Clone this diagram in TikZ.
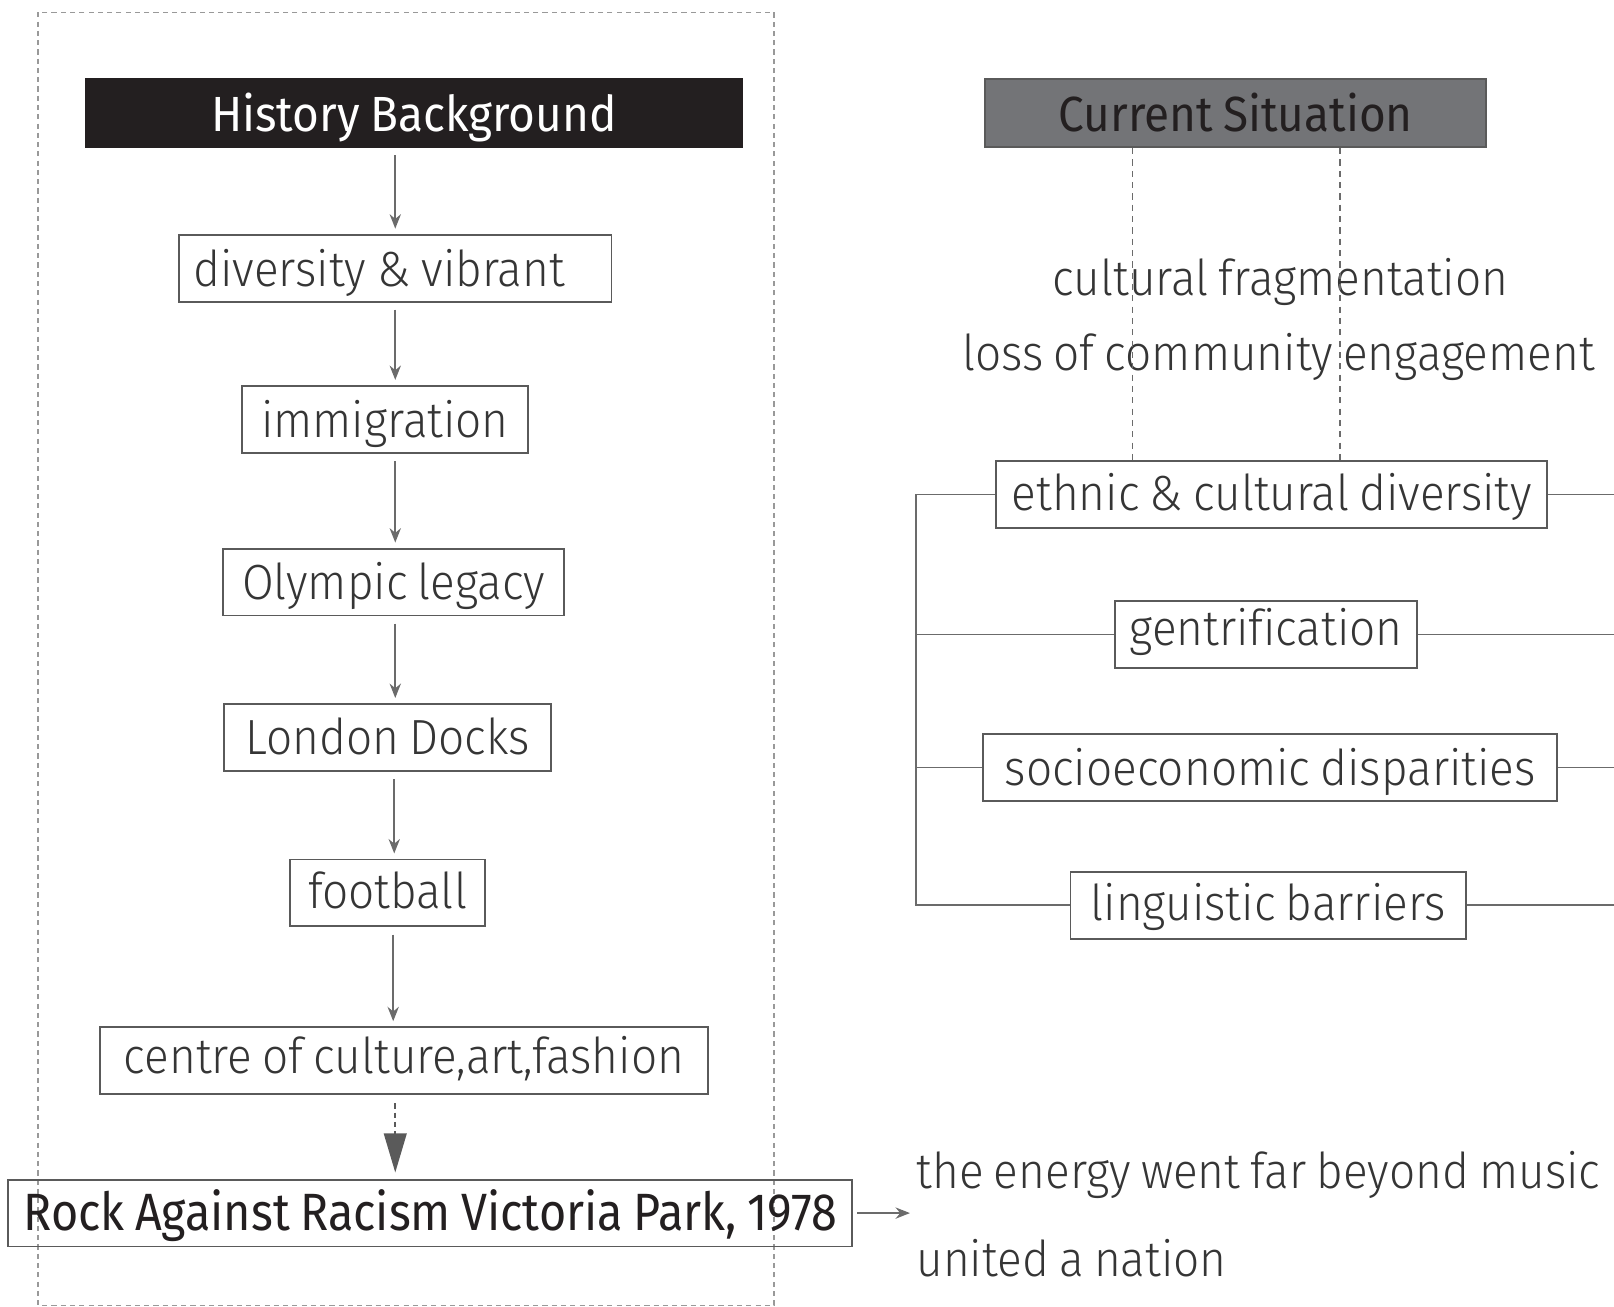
\documentclass[tikz,border=0pt]{standalone}
\usepackage{fontspec}
\setmainfont{Fira Sans Light}[FakeStretch=0.93, Ligatures=NoCommon, WordSpace=0.8]
\newfontfamily\regfont{Fira Sans}[FakeStretch=0.93, Ligatures=NoCommon, WordSpace=0.85]
\newfontfamily\rockfont{Fira Sans}[FakeStretch=0.89, Ligatures=NoCommon, WordSpace=0.85]
\usetikzlibrary{arrows.meta}
\definecolor{linegray}{HTML}{6B6B6B}
\definecolor{boxgray}{HTML}{5A5A5A}
\definecolor{txt}{HTML}{353535}
\definecolor{histfill}{HTML}{231F20}
\definecolor{curfill}{HTML}{737477}
\begin{document}
\begin{tikzpicture}[x=0.5pt,y=-0.5pt,
  box/.style 2 args={draw=boxgray, line width=0.9pt, inner sep=0pt,
    minimum width=#1*0.5pt, minimum height=#2*0.5pt,
    text height=20pt, text depth=2.5pt, text=txt, font=\fontsize{24}{28}\selectfont},
  lift/.style={text depth=#1pt},
  head/.style={box={#1}{66}, draw=histfill, font=\regfont\fontsize{24}{28}\selectfont},
  arr/.style={draw=linegray, line width=0.8pt, -{Stealth[length=7pt,width=5.5pt]},
    shorten <=3.5pt, shorten >=2.5pt},
  conn/.style={draw=linegray, line width=0.8pt},
  vdash/.style={draw=linegray, line width=0.7pt, dash pattern=on 3pt off 2.5pt},
  plain/.style={text=txt, inner sep=0pt, font=\fontsize{24}{28}\selectfont}]
\useasboundingbox (0,0) rectangle (1568,1269);
% outer dashed frame
\draw[draw=gray!80, line width=0.6pt, dash pattern=on 2.5pt off 2pt] (37,12) rectangle (752,1268);
% left column
\node[head={638}, fill=histfill, text=white] (hist) at (402,110) {History Background};
\node[box={420}{65}, text width=196pt, align=left] (div) at (384,260.5) {diversity\kern-2.5pt{} \&\kern-2.5pt{} vibrant};
\node[box={278}{65}] (imm) at (374,407.5) {immigration};
\node[box={331}{65}, lift=3.5] (oly) at (382.5,565.5) {Olympic legacy};
\node[box={317}{65}, lift=3.5] (lon) at (376.5,716.5) {London Docks};
\node[box={189}{65}, lift=4.5] (foot) at (376.5,867.5) {football};
\node[box={591}{65}, lift=7.5] (cen) at (392.5,1030.5) {centre of culture,art,fashion};
\node[box={820}{65}, lift=3.5, text=histfill, font=\rockfont\fontsize{25.5}{30}\selectfont] (rock) at (418,1178.5) {Rock Against Racism Victoria Park, 1978};
\coordinate (ax) at (384,0);
\coordinate (bx) at (383,0);
\coordinate (cx) at (382,0);
\draw[arr] (hist.south -| ax) -- (div.north -| ax);
\draw[arr] (div.south -| ax) -- (imm.north -| ax);
\draw[arr] (imm.south -| ax) -- (oly.north -| ax);
\draw[arr] (oly.south -| ax) -- (lon.north -| ax);
\draw[arr] (lon.south -| bx) -- (foot.north -| bx);
\draw[arr] (foot.south -| cx) -- (cen.north -| cx);
\draw[draw=boxgray, line width=1pt, dash pattern=on 2.5pt off 2pt, -{Triangle[length=19pt,width=11pt]}, shorten <=4pt, shorten >=3pt] (cen.south -| ax) -- (rock.north -| ax);
% right column
\node[head={487}, fill=curfill, draw=boxgray, text=histfill] (cur) at (1200.5,110) {Current Situation};
\node[plain, anchor=base] (frag) at (1244,287) {cultural fragmentation};
\node[plain, anchor=base] (loss) at (1242,360) {loss of community engagement};
\node[box={535}{65}, lift=5] (eth) at (1235.5,480.5) {ethnic \& cultural diversity};
\node[box={294}{65}, lift=9.5] (gen) at (1230,616.5) {gentrification};
\node[box={558}{65}] (soc) at (1234,745.5) {socioeconomic disparities};
\node[box={384}{65}, lift=5.5] (lin) at (1232,879.5) {linguistic barriers};
\coordinate (d1) at (1100,0);
\coordinate (d2) at (1302,0);
\draw[vdash] (cur.south -| d1) -- (eth.north -| d1);
\draw[vdash] (cur.south -| d2) -- (eth.north -| d2);
\coordinate (lx) at (890,0);
\coordinate (rx) at (1568,0);
\draw[conn] (eth.west) -- (eth.west -| lx) -- (lin.west -| lx) -- (lin.west);
\draw[conn] (gen.west) -- (gen.west -| lx);
\draw[conn] (soc.west) -- (soc.west -| lx);
\draw[conn] (eth.east) -- (eth.east -| rx);
\draw[conn] (gen.east) -- (gen.east -| rx);
\draw[conn] (soc.east) -- (soc.east -| rx);
\draw[conn] (lin.east) -- (lin.east -| rx);
% outcome
\node[plain, anchor=base west] (energy) at (890,1155) {the energy went far beyond music};
\node[plain, anchor=base west] (unite) at (890,1240) {united a nation};
\coordinate (ex) at (884,0);
\draw[draw=linegray, line width=0.8pt, -{Stealth[length=7pt,width=5.5pt]}, shorten <=2pt] (rock.east) -- (rock.east -| ex);
\end{tikzpicture}
\end{document}
